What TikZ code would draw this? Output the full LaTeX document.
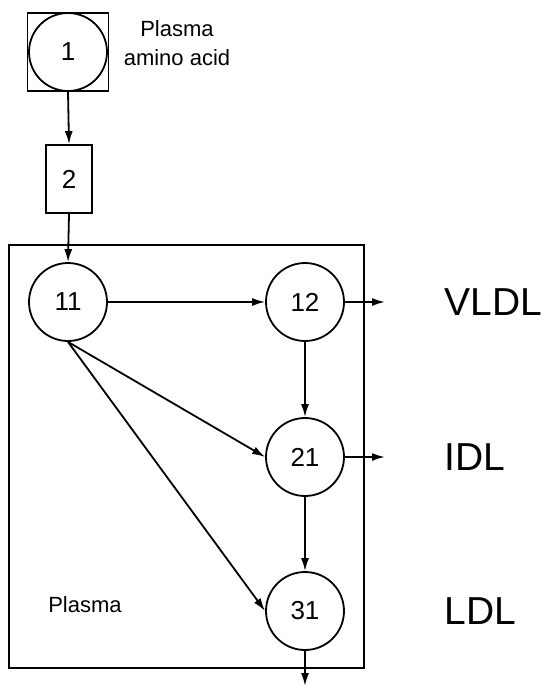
\documentclass[tikz,border=0pt]{standalone}
\usepackage{fontspec}
\setmainfont{Liberation Sans}
\usetikzlibrary{positioning, arrows.meta}

\begin{document}
\begin{tikzpicture}[
  x=0.5pt, y=-0.5pt,
  line width=0.9pt,
  pool/.style={circle, draw=black, line width=0.9pt, minimum size=39pt,
               inner sep=0pt, font=\fontsize{13}{15}\selectfont},
  tissue/.style={rectangle, draw=black, line width=0.9pt, inner sep=0pt,
                 minimum width=23pt, minimum height=34pt,
                 font=\fontsize{13}{15}\selectfont},
  frac/.style={anchor=west, font=\fontsize{19.5}{24}\selectfont},
  note/.style={align=center, font=\fontsize{11}{14.5}\selectfont},
  arr/.style={-{Latex[length=6.5pt, width=4pt]}, line width=0.9pt}
]
\useasboundingbox (0,0) rectangle (542,687);
% plasma compartment
\draw (9,245) rectangle (364,668);
\node[note] (plasma) at (85,605) {Plasma};
% amino acid input
\node[rectangle, draw=black, minimum width=40.5pt, minimum height=39pt,
      inner sep=0pt] (sq1) at (68,52) {};
\node[pool] (n1) at (68,52) {1};
\node[note] (aa) at (177,43) {Plasma\\amino acid};
\node[tissue] (n2) at (69,179) {2};
% apoB pools
\node[pool] (n11) at (68,302) {11};
\node[pool] (n12) at (305,302) {12};
\node[pool] (n21) at (305,457) {21};
\node[pool] (n31) at (305,611) {31};
\node[frac] (vldl) at (437,302) {VLDL};
\node[frac] (idl) at (437,457) {IDL};
\node[frac] (ldl) at (437,611) {LDL};
\coordinate (out12) at (385,302);
\coordinate (out21) at (385,457);
\coordinate (out31) at (305,686);
% synthesis path
\draw[arr] (sq1.south) -- (n2.north);
\draw[arr] (n2.south) -- (n11.north);
% conversions
\draw[arr] (n11.east) -- (n12.west);
\draw[arr] (n11.south) -- (n21.west);
\draw[arr] (n11.south) -- (n31.west);
\draw[arr] (n12.south) -- (n21.north);
\draw[arr] (n21.south) -- (n31.north);
% losses
\draw[arr] (n12.east) -- (out12);
\draw[arr] (n21.east) -- (out21);
\draw[arr] (n31.south) -- (out31);
\end{tikzpicture}
\end{document}
